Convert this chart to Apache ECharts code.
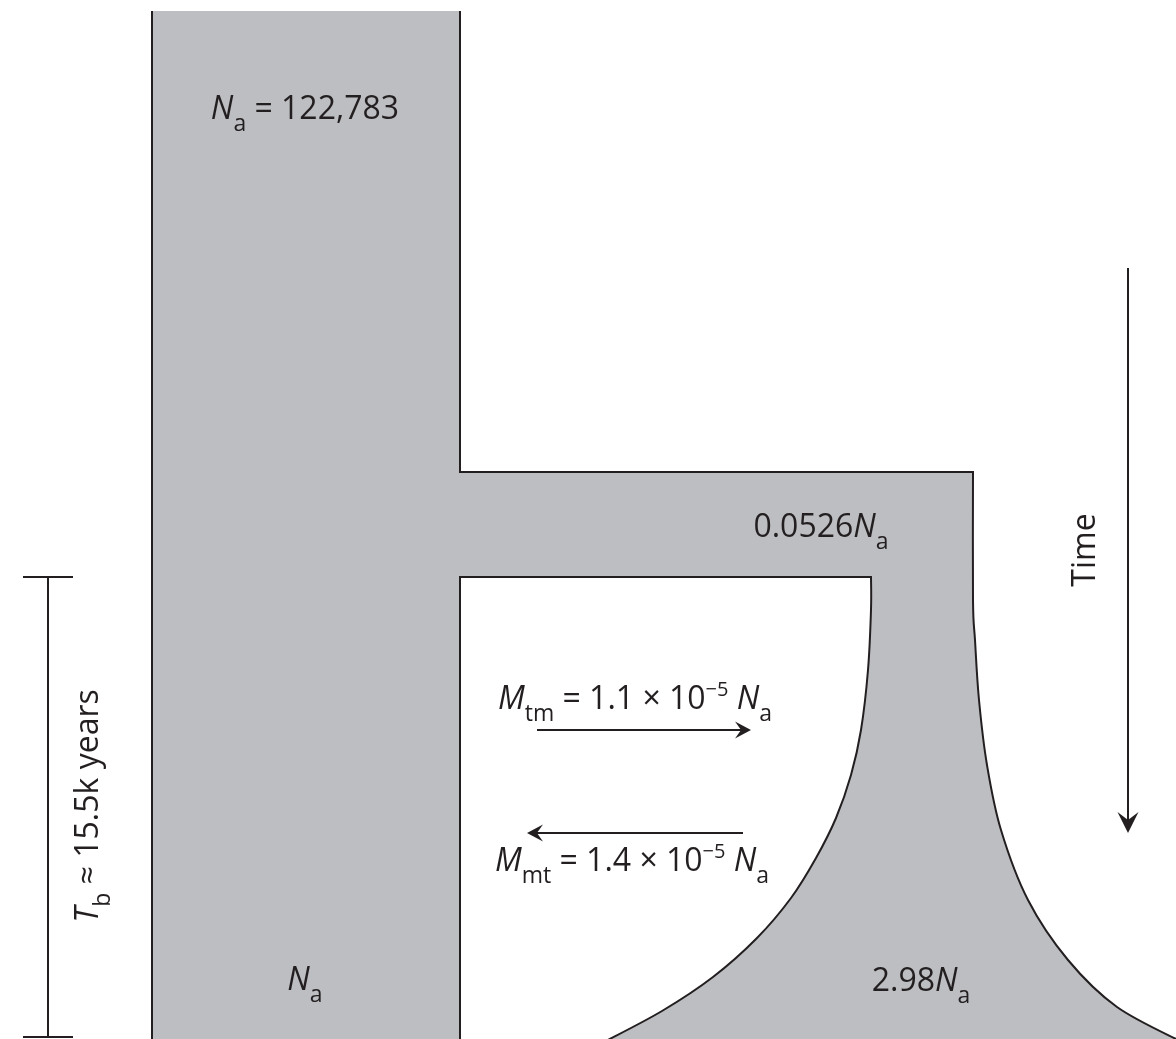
<!DOCTYPE html>
<html><head><meta charset="utf-8">
<script src="https://cdn.jsdelivr.net/npm/echarts@6/dist/echarts.min.js"></script>
<style>html,body{margin:0;padding:0;background:#fff}#c{width:1176px;height:1039px}</style>
</head><body><div id="c"></div>
<script>
// ---------- Diagram data (horizontal position, time depth; top = oldest) ----------
const columnX = [152, 460];          // ancestral / left population edges
const columnTopY = 11;
const bridgeY = [472, 577];          // top and bottom of the bottlenecked branch
const bridgeRightX = 973;
const innerCornerX = 871;
const bottomY = 1045;
// inner (left) boundary of the expanding population, top to bottom
const innerCurve = [[871,577],[871,610],[868,670],[861,730],[851,775],[836,818],[816,858],[791,898],[757,938],[713,977],[662,1011],[604,1042]];
// outer (right) boundary of the expanding population, top to bottom
const outerCurve = [[973,472],[973,600],[975,640],[979,700],[987,765],[1001,830],[1028,900],[1068,960],[1117,1007],[1182,1042]];

// arrows: [fromX, fromY, toX, toY, headLength, headHalfWidth]
const arrows = [
  [537, 730, 751, 730, 16, 8.5],
  [743, 833, 527, 833, 16, 8.5],
  [1128, 268, 1128, 833, 21, 10.5]
];
// scale bar for T_b
const scaleBarX = 48, scaleBarY = [577, 1037], scaleBarHalf = 25;

// labels: [x, y, rotationDeg, richText]
const labels = [
  [305, 110, 0, '{i|N}{s|a}{n| = 122,783}'],
  [821, 528, 0, '{n|0.0526}{i|N}{s|a}'],
  [635, 700, 0, '{i|M}{s|tm}{n| = 1.1 × 10}{p|−5}{n| }{i|N}{s|a}'],
  [632, 862, 0, '{i|M}{s|mt}{n| = 1.4 × 10}{p|−5}{n| }{i|N}{s|a}'],
  [305, 981, 0, '{i|N}{s|a}'],
  [921, 982, 0, '{n|2.98}{i|N}{s|a}'],
  [1086, 550, 90, '{n|Time}'],
  [89, 806, 90, '{i|T}{s|b}{n| ≈ 15.5k years}']
];

// ---------- styles ----------
const FILL = '#bdbec2', INK = '#231f20', LW = 2;
const FONT = "'Open Sans', 'Noto Sans', sans-serif";
const rich = {
  n: {fontSize: 32, fontFamily: FONT, fill: INK},
  i: {fontSize: 32, fontFamily: FONT, fontStyle: 'italic', fill: INK},
  s: {fontSize: 23, fontFamily: FONT, fill: INK, padding: [28, 0, 0, 0]},
  p: {fontSize: 20, fontFamily: FONT, fill: INK, padding: [0, 0, 20, 0]}
};

function smoothSeg(pts) {
  let d = '';
  for (let i = 0; i < pts.length - 1; i++) {
    const p0 = pts[i - 1] || pts[i], p1 = pts[i], p2 = pts[i + 1], p3 = pts[i + 2] || p2;
    const c1 = [p1[0] + (p2[0] - p0[0]) / 6, p1[1] + (p2[1] - p0[1]) / 6];
    const c2 = [p2[0] - (p3[0] - p1[0]) / 6, p2[1] - (p3[1] - p1[1]) / 6];
    d += ' C' + c1[0] + ' ' + c1[1] + ' ' + c2[0] + ' ' + c2[1] + ' ' + p2[0] + ' ' + p2[1];
  }
  return d;
}
function P(p) { return p[0] + ' ' + p[1]; }

const chart = echarts.init(document.getElementById('c'), null, {renderer: 'canvas'});

const shapeSeries = {
  type: 'custom', coordinateSystem: 'cartesian2d', silent: true,
  data: [[0, 0]],
  renderItem: function (params, api) {
    const c = p => api.coord(p);
    const inner = innerCurve.map(c), outer = outerCurve.map(c);
    const innerRev = inner.slice().reverse();
    const bot = bottomY;
    // fill
    let f = 'M' + P(c([columnX[0], columnTopY])) + ' L' + P(c([columnX[1], columnTopY])) +
      ' L' + P(c([columnX[1], bridgeY[0]])) + ' L' + P(outer[0]) + smoothSeg(outer) +
      ' L' + P(c([outerCurve[outerCurve.length - 1][0], bot])) +
      ' L' + P(c([innerCurve[innerCurve.length - 1][0], bot])) +
      ' L' + P(innerRev[0]) + smoothSeg(innerRev) +
      ' L' + P(c([columnX[1], bridgeY[1]])) + ' L' + P(c([columnX[1], bot])) +
      ' L' + P(c([columnX[0], bot])) + ' Z';
    // strokes
    const s1 = 'M' + P(c([columnX[0], columnTopY])) + ' L' + P(c([columnX[0], bot]));
    const s2 = 'M' + P(c([columnX[1], columnTopY])) + ' L' + P(c([columnX[1], bridgeY[0]])) +
      ' L' + P(outer[0]) + smoothSeg(outer);
    const s3 = 'M' + P(c([columnX[1], bot])) + ' L' + P(c([columnX[1], bridgeY[1]])) +
      ' L' + P(inner[0]) + smoothSeg(inner);
    const sb = 'M' + P(c([scaleBarX, scaleBarY[0]])) + ' L' + P(c([scaleBarX, scaleBarY[1]])) +
      ' M' + P(c([scaleBarX - scaleBarHalf, scaleBarY[0]])) + ' L' + P(c([scaleBarX + scaleBarHalf, scaleBarY[0]])) +
      ' M' + P(c([scaleBarX - scaleBarHalf, scaleBarY[1]])) + ' L' + P(c([scaleBarX + scaleBarHalf, scaleBarY[1]]));
    const strokeStyle = {fill: null, stroke: INK, lineWidth: LW, lineJoin: 'miter'};
    const children = [
      {type: 'path', shape: {pathData: f}, style: {fill: FILL, stroke: null}},
      {type: 'path', shape: {pathData: s1}, style: strokeStyle},
      {type: 'path', shape: {pathData: s2}, style: strokeStyle},
      {type: 'path', shape: {pathData: s3}, style: strokeStyle},
      {type: 'path', shape: {pathData: sb}, style: strokeStyle}
    ];
    arrows.forEach(a => {
      const p1 = c([a[0], a[1]]), p2 = c([a[2], a[3]]);
      const dx = p2[0] - p1[0], dy = p2[1] - p1[1], len = Math.hypot(dx, dy);
      const ux = dx / len, uy = dy / len, px = -uy, py = ux;
      const L = a[4], W = a[5];
      const back = [p2[0] - ux * L, p2[1] - uy * L];
      const notch = [p2[0] - ux * L * 0.62, p2[1] - uy * L * 0.62];
      children.push({type: 'line', shape: {x1: p1[0], y1: p1[1], x2: notch[0], y2: notch[1]}, style: {stroke: INK, lineWidth: LW}});
      children.push({type: 'polygon', shape: {points: [p2, [back[0] + px * W, back[1] + py * W], notch, [back[0] - px * W, back[1] - py * W]]}, style: {fill: INK}});
    });
    return {type: 'group', children: children};
  }
};

const labelSeries = {
  type: 'custom', coordinateSystem: 'cartesian2d', silent: true,
  data: labels.map((l, i) => [l[0], l[1], i]),
  renderItem: function (params, api) {
    const l = labels[params.dataIndex];
    const p = api.coord([api.value(0), api.value(1)]);
    return {
      type: 'text', x: p[0], y: p[1], rotation: l[2] * Math.PI / 180,
      style: {text: l[3], rich: rich, align: 'center', verticalAlign: 'middle', fill: INK, fontSize: 32, fontFamily: FONT}
    };
  }
};

chart.setOption({
  animation: false,
  grid: {left: 0, right: 0, top: 0, bottom: 0},
  xAxis: {type: 'value', min: 0, max: 1176, show: false},
  yAxis: {type: 'value', min: 0, max: 1039, inverse: true, show: false},
  series: [shapeSeries, labelSeries]
});
</script></body></html>
